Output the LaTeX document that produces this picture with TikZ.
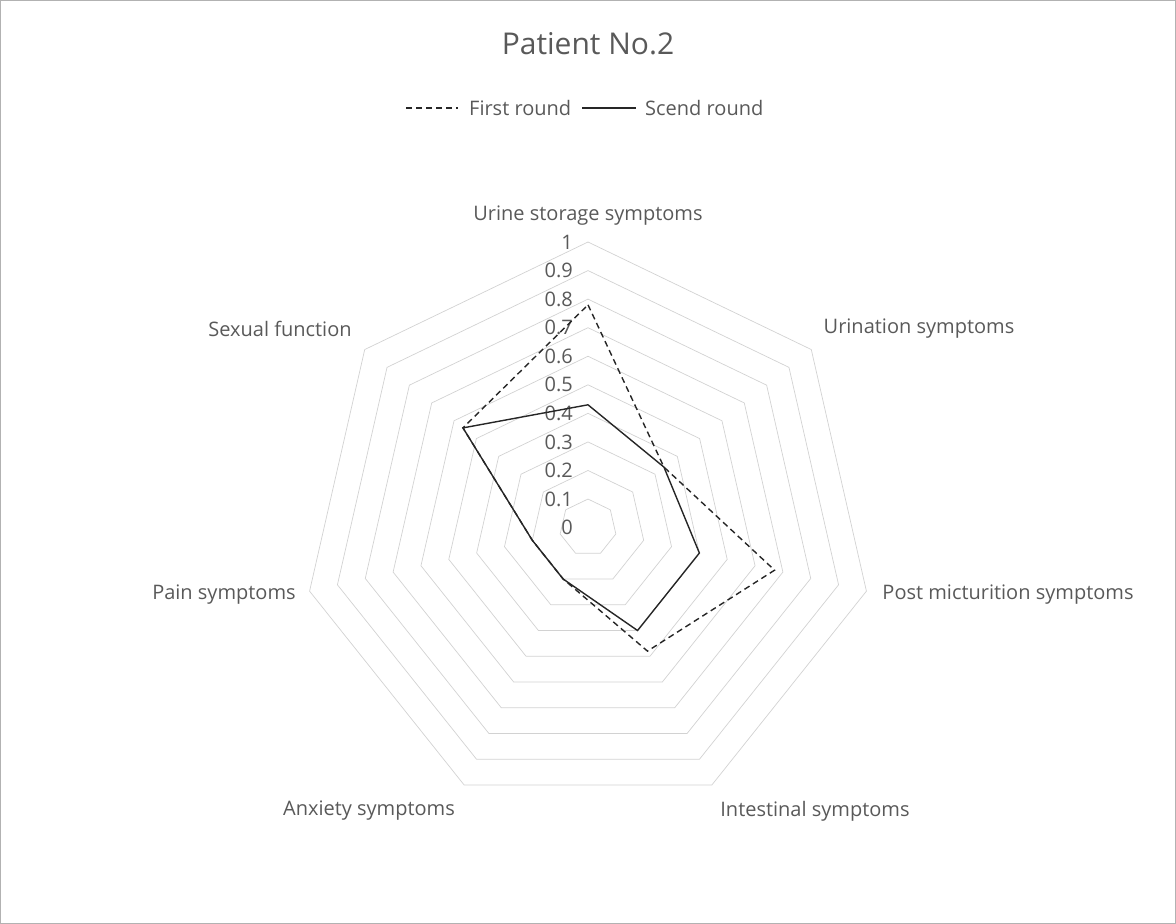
\documentclass[tikz,border=0pt]{standalone}
\usepackage{fontspec}
\setmainfont{Open Sans}
\begin{document}
\begin{tikzpicture}[x=1pt,y=-1pt,
  lbl/.style={text=txt,font=\fontsize{20}{22}\selectfont,inner sep=0pt},
  grid/.style={draw=gray!35,line width=0.7pt},
  ser/.style={black!85,line width=1.4pt,line join=miter}]
\definecolor{txt}{HTML}{595959}
\useasboundingbox (0,0) rectangle (1176,924);
\draw[gray!60,line width=0.8pt] (0.5,0.5) rectangle (1175.5,923.5);
\def\cx{588}\def\cy{527.6}\def\R{285.6}
\def\pt#1#2{({\cx+(#2)*\R*cos(90-(#1)*360/7)},{\cy-(#2)*\R*sin(90-(#1)*360/7)})}
\foreach \k in {1,...,10}{
  \draw[grid] \pt{0}{\k/10} \foreach \i in {1,...,6}{ -- \pt{\i}{\k/10} } -- cycle;
}
\foreach \k in {0,...,10}{
  \node[lbl,anchor=east] (v\k) at (573,{\cy-\k/10*\R}) {\ifnum\k=0 0\else\ifnum\k=10 1\else 0.\k\fi\fi};
}
% data
\draw[ser,dash pattern=on 6pt off 4pt] \pt{0}{0.78} -- \pt{1}{0.34} -- \pt{2}{0.67} -- \pt{3}{0.48} -- \pt{4}{0.2} -- \pt{5}{0.2} -- \pt{6}{0.56} -- cycle;
\draw[ser] \pt{0}{0.43} -- \pt{1}{0.34} -- \pt{2}{0.4} -- \pt{3}{0.4} -- \pt{4}{0.2} -- \pt{5}{0.2} -- \pt{6}{0.56} -- cycle;
% axis labels
\node[lbl] (a0) at (588,216) {Urine storage symptoms};
\node[lbl] (a1) at (919,329) {Urination symptoms};
\node[lbl] (a2) at (1008,595) {Post micturition symptoms};
\node[lbl] (a3) at (815,811) {Intestinal symptoms};
\node[lbl] (a4) at (369,811) {Anxiety symptoms};
\node[lbl] (a5) at (224,595) {Pain symptoms};
\node[lbl] (a6) at (280,329) {Sexual function};
% title and legend
\node[lbl,font=\fontsize{30}{32}\selectfont] (title) at (588,44) {Patient No.2};
\coordinate (d1) at (406,108); \coordinate (d2) at (458,108);
\draw[ser,dash pattern=on 6pt off 4pt] (d1) -- (d2);
\node[lbl,anchor=west] (l1) at (469,108) {First round};
\coordinate (s1) at (582,108); \coordinate (s2) at (636,108);
\draw[ser] (s1) -- (s2);
\node[lbl,anchor=west] (l2) at (645,108) {Scend round};
\end{tikzpicture}
\end{document}
